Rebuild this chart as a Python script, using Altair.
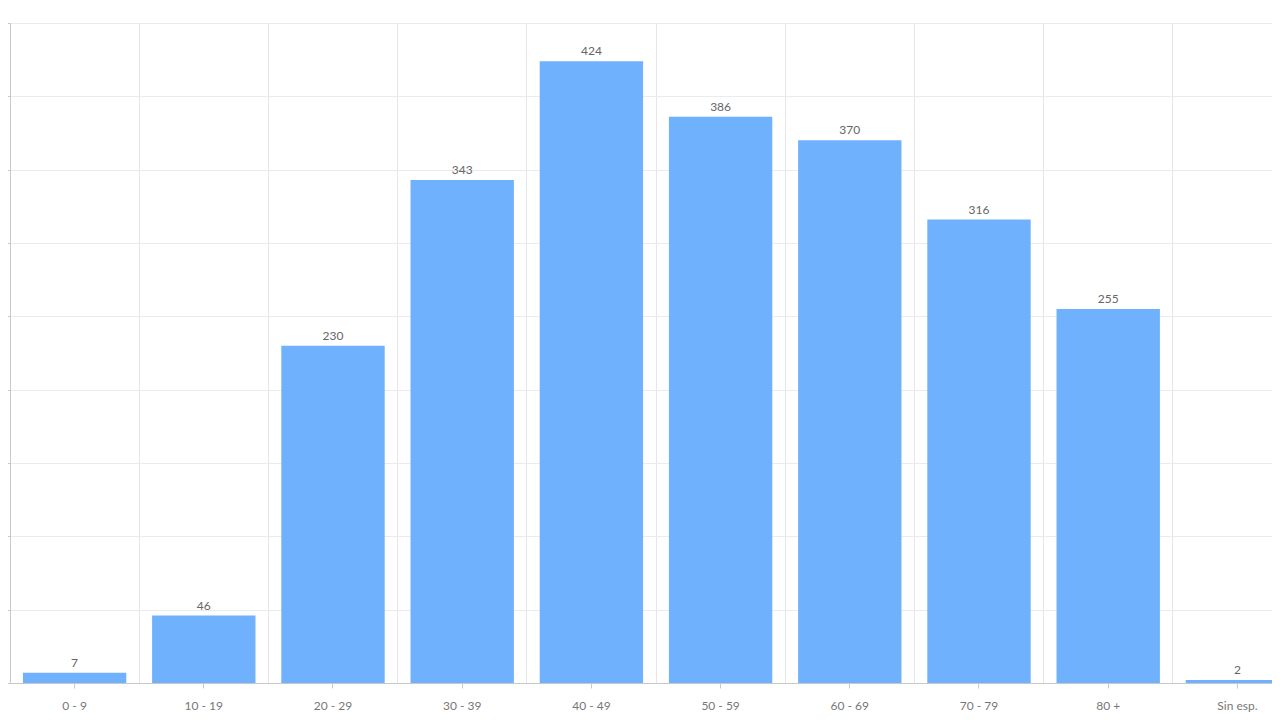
import altair as alt
import pandas as pd

categories = ["0 - 9", "10 - 19", "20 - 29", "30 - 39", "40 - 49",
              "50 - 59", "60 - 69", "70 - 79", "80 +", "Sin esp."]
values = [7, 46, 230, 343, 424, 386, 370, 316, 255, 2]

df = pd.DataFrame({"cat": categories, "val": values})

W = 1262
FULL = 1292
H = 660

y_scale = alt.Scale(domain=[0, 450], nice=False)

grid_layer = alt.Chart(df).mark_bar(opacity=0).encode(
    x=alt.X("cat:N", sort=categories,
            scale=alt.Scale(paddingInner=0, paddingOuter=0, range=[0, FULL]),
            axis=alt.Axis(orient="bottom", grid=True, bandPosition=0,
                          labels=False, ticks=False, domain=False,
                          title=None, gridColor="#e6e6e6", gridWidth=1)),
    y=alt.Y("val:Q", scale=y_scale,
            axis=alt.Axis(values=list(range(0, 451, 50)), grid=True,
                          gridColor="#ebebeb", labels=False, tickSize=6,
                          tickColor="#c8c8c8", domainColor="#c8c8c8",
                          title=None)),
)

bar_scale = alt.Scale(paddingInner=0.2, paddingOuter=0.1, range=[0, FULL])

bars = alt.Chart(df).mark_bar(color="#6FB1FC").encode(
    x=alt.X("cat:N", sort=categories, scale=bar_scale,
            axis=alt.Axis(orient="bottom", grid=False, labelAngle=0,
                          labelFont="Lato", labelFontSize=12,
                          labelColor="#777777", labelPadding=12,
                          tickSize=5, tickColor="#c8c8c8",
                          domainColor="#c8c8c8", title=None)),
    y=alt.Y("val:Q", scale=y_scale),
)

labels = alt.Chart(df).mark_text(
    baseline="bottom", dy=-3, font="Lato", fontSize=12, color="#666666"
).encode(
    x=alt.X("cat:N", sort=categories, scale=bar_scale),
    y=alt.Y("val:Q", scale=y_scale),
    text="val:Q",
)

top = alt.layer(bars, labels)

chart = alt.layer(grid_layer, top).resolve_scale(x="independent").properties(
    width=W, height=H,
    autosize=alt.AutoSizeParams(type="none"),
    padding={"left": 2, "top": 15, "right": 0, "bottom": 29},
).configure_view(stroke=None)

chart.save("out.html", embed_options={"renderer": "svg", "actions": False})
